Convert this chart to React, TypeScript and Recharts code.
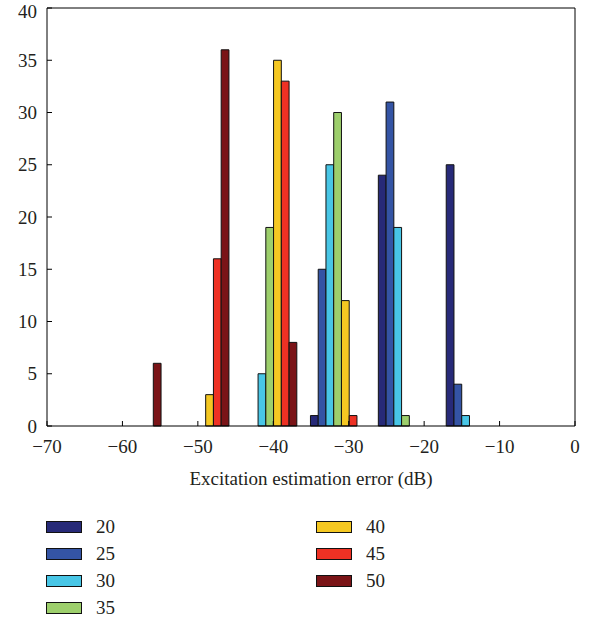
import { BarChart, Bar, XAxis, YAxis, Label } from 'recharts'

// bin centres (dB) and counts per SNR series
const BINS = [-58.5, -49.5, -40.5, -31.5, -22.5, -13.5]
const SERIES = ['20', '25', '30', '35', '40', '45', '50']
const COUNTS_20 = [0, 0, 0, 1, 24, 25]
const COUNTS_25 = [0, 0, 0, 15, 31, 4]
const COUNTS_30 = [0, 0, 5, 25, 19, 1]
const COUNTS_35 = [0, 0, 19, 30, 1, 0]
const COUNTS_40 = [0, 3, 35, 12, 0, 0]
const COUNTS_45 = [0, 16, 33, 1, 0, 0]
const COUNTS_50 = [6, 36, 8, 0, 0, 0]
const X_TICKS = [-70, -60, -50, -40, -30, -20, -10, 0]
const Y_TICKS = [0, 5, 10, 15, 20, 25, 30, 35, 40]

const COLORS = ['#272a78', '#3454a4', '#48c6e6', '#9dcf6c', '#f5c822', '#ee3124', '#7a1417']
const ALL_COUNTS = [COUNTS_20, COUNTS_25, COUNTS_30, COUNTS_35, COUNTS_40, COUNTS_45, COUNTS_50]

const rows = BINS.map((bin, i) => {
  const row: Record<string, number | null> = { bin }
  SERIES.forEach((s, k) => {
    const v = ALL_COUNTS[k][i]
    row['s' + s] = v === 0 ? null : v
  })
  return row
})

const FONT = '"Liberation Serif", "Times New Roman", serif'
const FS = 19
const tickStyle = { fontSize: FS, fill: '#231f20', fontFamily: FONT }
const minus = (v: number) => String(v).replace('-', '\u2212')

function LegendBlock() {
  const cols = [SERIES.slice(0, 4), SERIES.slice(4)]
  return (
    <div style={{ position: 'absolute', left: 0, top: 0, width: 593, fontFamily: FONT, fontSize: FS, color: '#231f20' }}>
      {cols.map((col, c) =>
        col.map((s, r) => {
          const idx = SERIES.indexOf(s)
          return (
            <div key={s} style={{ position: 'absolute', left: c === 0 ? 46 : 316, top: 516 + r * 27, height: 22, display: 'flex', alignItems: 'center' }}>
              <span style={{ display: 'inline-block', width: 34, height: 10, background: COLORS[idx], border: '1px solid #111' }} />
              <span style={{ marginLeft: 14, lineHeight: '22px' }}>{s}</span>
            </div>
          )
        })
      )}
    </div>
  )
}

export default function App() {
  return (
    <div style={{ position: 'absolute', left: 0, top: 0, width: 593, height: 622, background: '#fff' }}>
      <BarChart width={593} height={622} data={rows} margin={{ top: 7, right: 17, left: 0, bottom: 136 }} barGap={0} barSize={7.75}>
        <XAxis
          xAxisId="b"
          dataKey="bin"
          type="number"
          domain={[-70, 0]}
          ticks={X_TICKS}
          allowDataOverflow
          height={60}
          tickSize={-5}
          tickMargin={19}
          tickFormatter={minus}
          tick={tickStyle}
          stroke="#000"
          axisLine={{ stroke: '#000', strokeWidth: 1 }}
          tickLine={{ stroke: '#000' }}
        >
          <Label value="Excitation estimation error (dB)" position="insideTop" offset={46} style={{ fontSize: FS, fill: '#231f20', fontFamily: FONT }} />
        </XAxis>
        <XAxis
          xAxisId="t"
          orientation="top"
          dataKey="bin"
          type="number"
          domain={[-70, 0]}
          ticks={X_TICKS}
          allowDataOverflow
          height={1}
          tickSize={-5}
          tick={false}
          stroke="#000"
          tickLine={{ stroke: '#000' }}
        />
        <YAxis
          yAxisId="l"
          type="number"
          domain={[0, 40]}
          ticks={Y_TICKS}
          width={47}
          tickSize={-5}
          tickMargin={15}
          tick={tickStyle}
          stroke="#000"
          tickLine={{ stroke: '#000' }}
        />
        <YAxis
          yAxisId="r"
          orientation="right"
          type="number"
          domain={[0, 40]}
          ticks={Y_TICKS}
          width={1}
          tickSize={-5}
          tick={false}
          stroke="#000"
          tickLine={{ stroke: '#000' }}
        />
        {SERIES.map((s, k) => (
          <Bar
            key={s}
            xAxisId="b"
            yAxisId="l"
            dataKey={'s' + s}
            name={s}
            fill={COLORS[k]}
            stroke="#111"
            strokeWidth={1}
            isAnimationActive={false}
          />
        ))}
      </BarChart>
      <LegendBlock />
    </div>
  )
}
